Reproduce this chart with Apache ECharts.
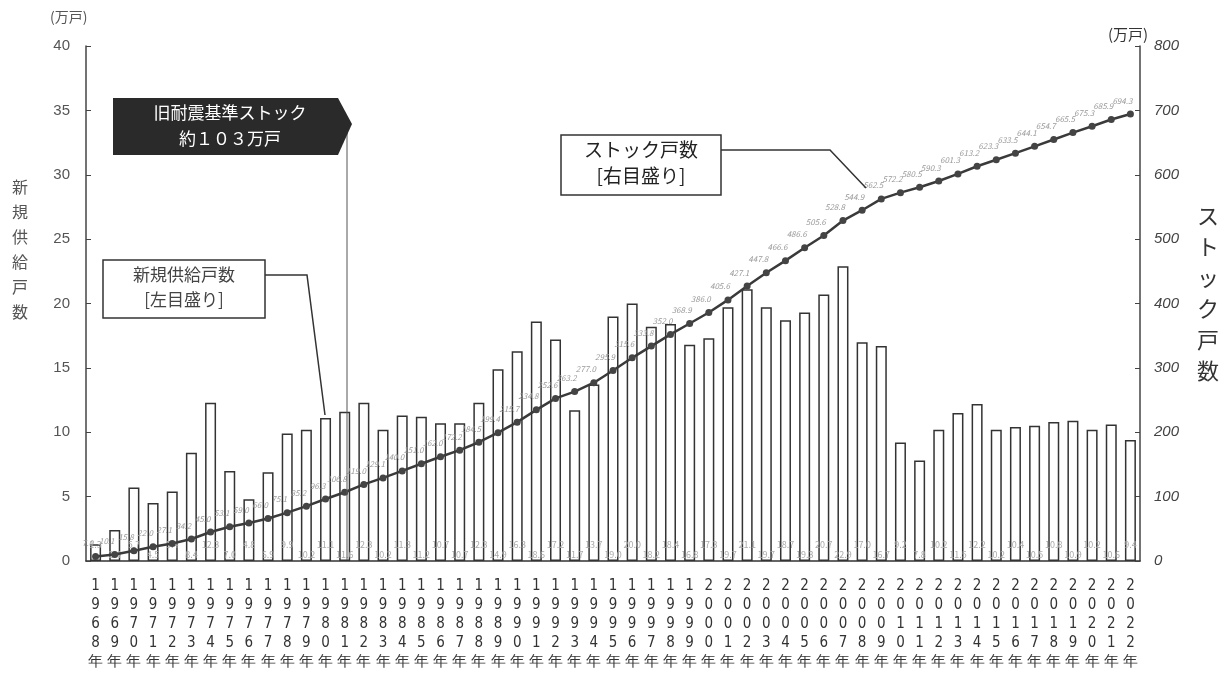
<!DOCTYPE html>
<html><head><meta charset="utf-8">
<script src="https://cdn.jsdelivr.net/npm/echarts@6/dist/echarts.min.js"></script>
<style>html,body{margin:0;padding:0;background:#fff}#c{width:1226px;height:678px}</style>
</head><body><div id="c"></div>
<script>
const years = ['1968','1969','1970','1971','1972','1973','1974','1975','1976','1977','1978','1979',
'1980','1981','1982','1983','1984','1985','1986','1987','1988','1989','1990','1991','1992','1993',
'1994','1995','1996','1997','1998','1999','2000','2001','2002','2003','2004','2005','2006','2007',
'2008','2009','2010','2011','2012','2013','2014','2015','2016','2017','2018','2019','2020','2021','2022'];
// 新規供給戸数（万戸）
const supply = [1.3,2.4,5.7,4.5,5.4,8.4,12.3,7.0,4.8,6.9,9.9,10.2,
11.1,11.6,12.3,10.2,11.3,11.2,10.7,10.7,12.3,14.9,16.3,18.6,17.2,11.7,
13.7,19.0,20.0,18.2,18.4,16.8,17.3,19.7,21.1,19.7,18.7,19.3,20.7,22.9,
17.0,16.7,9.2,7.8,10.2,11.5,12.2,10.2,10.4,10.5,10.8,10.9,10.2,10.6,9.4];
// ストック戸数（万戸）
const stock = [7.0,10.1,15.8,22.0,27.1,34.2,45.0,53.1,59.0,66.0,75.1,85.2,
96.3,106.8,119.0,129.1,140.0,151.0,162.0,172.2,184.5,199.4,215.7,234.8,252.6,263.2,
277.0,295.9,315.6,333.8,352.0,368.9,386.0,405.6,427.1,447.8,466.6,486.6,505.6,528.8,
544.9,562.5,572.2,580.5,590.3,601.3,613.2,623.3,633.5,644.1,654.7,665.5,675.3,685.9,694.3];
const leftTicks = [0,5,10,15,20,25,30,35,40];
const rightTicks = [0,100,200,300,400,500,600,700,800];

const chart = echarts.init(document.getElementById('c'));
const FONT = '"Noto Sans CJK JP","Liberation Sans",sans-serif';

const barData = supply.map((v,i)=>({value:v,label:{distance: i%2 ? 2 : 12}}));

chart.setOption({
  animation:false,
  textStyle:{fontFamily:FONT},
  grid:{left:86,right:86,top:46,bottom:117},
  xAxis:{
    type:'category', data:years,
    axisLine:{lineStyle:{color:'#333',width:1.5}},
    axisTick:{show:true,inside:true,length:4,alignWithLabel:true,lineStyle:{color:'#333'}},
    axisLabel:{interval:0,margin:16,fontSize:15,lineHeight:19,color:'#333',
      fontFamily:'"Liberation Sans Narrow","DejaVu Sans Condensed","Liberation Sans",sans-serif',
      formatter:v=>(v+'年').split('').join('\n')}
  },
  yAxis:[
    {type:'value',min:leftTicks[0],max:leftTicks[leftTicks.length-1],interval:5,
     axisLine:{show:true,lineStyle:{color:'#444',width:1.5}},
     axisTick:{show:true,inside:true,length:5,lineStyle:{color:'#444'}},
     splitLine:{show:false},
     axisLabel:{fontSize:15,color:'#555',margin:16,fontFamily:'"Liberation Sans",sans-serif'}},
    {type:'value',min:rightTicks[0],max:rightTicks[rightTicks.length-1],interval:100,position:'right',
     axisLine:{show:true,lineStyle:{color:'#444',width:1.5}},
     axisTick:{show:true,inside:true,length:5,lineStyle:{color:'#444'}},
     splitLine:{show:false},
     axisLabel:{fontSize:15,color:'#444',fontStyle:'italic',margin:14,fontFamily:'"Liberation Sans",sans-serif'}}
  ],
  series:[
    {type:'bar',name:'新規供給戸数',data:barData,yAxisIndex:0,barWidth:11,
     itemStyle:{color:'#fff',borderColor:'#333',borderWidth:1.5},
     label:{show:true,position:'insideBottom',fontSize:9,color:'#aaa',
       formatter:p=>p.value.toFixed(1)}},
    {type:'line',name:'ストック戸数',data:stock,yAxisIndex:1,z:5,
     symbol:'circle',symbolSize:7,
     itemStyle:{color:'#444'},lineStyle:{color:'#3a3a3a',width:2.5},
     label:{show:true,position:'top',fontSize:8,color:'#999',fontStyle:'italic',offset:[-8,-1],
       formatter:p=>p.value.toFixed(1)}}
  ],
  graphic:[
    {type:'text',x:50,y:10,style:{text:'(万戸)',font:'14px '+FONT,fill:'#555'}},
    {type:'text',x:1108,y:27,style:{text:'(万戸)',font:'15px '+FONT,fill:'#333'}},
    {type:'text',x:20,y:174,style:{text:'新\n規\n供\n給\n戸\n数',font:'16px '+FONT,fill:'#555',
      textAlign:'center',lineHeight:25}},
    {type:'text',x:1208,y:200,style:{text:'ス\nト\nッ\nク\n戸\n数',font:'22px '+FONT,fill:'#333',
      textAlign:'center',lineHeight:31}},
    // 旧耐震 arrow box
    {type:'line',z:50,shape:{x1:347,y1:130,x2:347,y2:560},style:{stroke:'#555',lineWidth:1}},
    {type:'polygon',z:60,shape:{points:[[113,98],[338,98],[352,124],[338,155],[113,155]]},
      style:{fill:'#2a2a2a'}},
    {type:'text',z:61,x:230,y:104,style:{text:'旧耐震基準ストック',font:'17px '+FONT,fill:'#fff',textAlign:'center'}},
    {type:'text',z:61,x:230,y:130,style:{text:'約１０３万戸',font:'17px '+FONT,fill:'#fff',textAlign:'center'}},
    // 新規供給戸数 box
    {type:'polyline',z:50,shape:{points:[[265,275],[307,275],[325,415]]},style:{stroke:'#333',lineWidth:1.5,fill:null}},
    {type:'rect',z:60,shape:{x:103,y:260,width:162,height:58},style:{fill:'#fff',stroke:'#333',lineWidth:1.5}},
    {type:'text',z:61,x:184,y:266,style:{text:'新規供給戸数',font:'17px '+FONT,fill:'#444',textAlign:'center'}},
    {type:'text',z:61,x:184,y:291,style:{text:'[左目盛り]',font:'17px '+FONT,fill:'#444',textAlign:'center'}},
    // ストック戸数 box
    {type:'polyline',z:50,shape:{points:[[720,150],[830,150],[866,188]]},style:{stroke:'#333',lineWidth:1.5,fill:null}},
    {type:'rect',z:60,shape:{x:561,y:135,width:160,height:60},style:{fill:'#fff',stroke:'#333',lineWidth:1.5}},
    {type:'text',z:61,x:641,y:140,style:{text:'ストック戸数',font:'19px '+FONT,fill:'#222',textAlign:'center'}},
    {type:'text',z:61,x:641,y:166,style:{text:'[右目盛り]',font:'19px '+FONT,fill:'#222',textAlign:'center'}}
  ]
});
</script></body></html>
